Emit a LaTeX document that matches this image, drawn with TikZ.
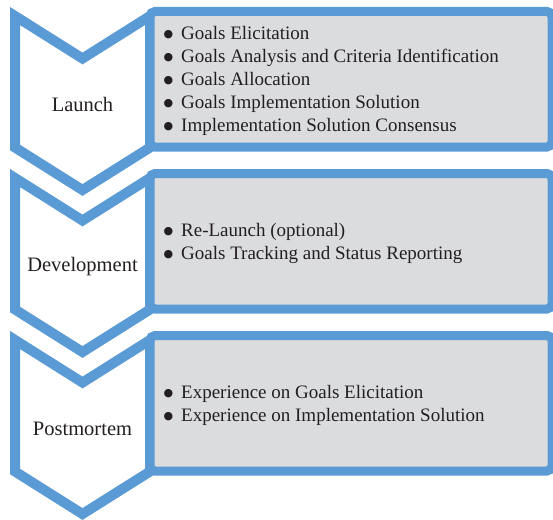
\documentclass[tikz,border=0pt]{standalone}
\usepackage{fontspec}
\setmainfont{Liberation Serif}
\newfontfamily\bulletfont{DejaVu Sans}
\definecolor{stageblue}{RGB}{91,155,213}
\definecolor{panelgrey}{RGB}{219,220,222}
\definecolor{inkdark}{RGB}{35,31,32}
\newcommand\itembullet{\makebox[16.5pt][l]{\hspace{-1pt}\raisebox{2.4pt}{\bulletfont\fontsize{11}{11}\selectfont ●}}}
\begin{document}
\begin{tikzpicture}[x=1pt,y=-1pt,
  chevron/.style={draw=stageblue, fill=white, line width=10pt, line join=miter, miter limit=10},
  panel/.style={draw=stageblue, fill=panelgrey, line width=9pt, rounded corners=5pt,
    rectangle, minimum width=402pt, minimum height=135.5pt, inner sep=0pt, outer sep=0pt},
  stagelabel/.style={font=\fontsize{20.5}{24}\selectfont, text=inkdark, inner sep=0pt},
  itemlist/.style={font=\fontsize{19}{23}\selectfont, text=inkdark, align=left,
    anchor=west, inner sep=0pt},
  pics/stagechevron/.style={code={
    \draw[chevron] (15,16) -- (82.5,58.5) -- (150,16) -- (150,147.5)
      -- (82.5,190) -- (15,147.5) -- cycle;}}]
\useasboundingbox (0,0) rectangle (553,519);

% three stage chevrons, stacked top to bottom
\pic (launchchev) at (0,0) {stagechevron};
\pic (devchev) at (0,162) {stagechevron};
\pic (postchev) at (0,324) {stagechevron};

% grey activity panels beside each chevron
\node[panel] (launchpanel) at (351,79.25) {};
\node[panel] (devpanel) at (351,241.25) {};
\node[panel] (postpanel) at (351,403.25) {};

% stage names
\node[stagelabel] (launch) at (82.5,104) {Launch};
\node[stagelabel] (dev) at (82.5,267) {Development};
\node[stagelabel] (post) at (82.5,429) {Postmortem};

% activities of each stage
\node[itemlist] (launchitems) at (164.5,81) {%
  \itembullet Goals Elicitation\\
  \itembullet Goals Analysis and Criteria Identification\\
  \itembullet Goals Allocation\\
  \itembullet Goals Implementation Solution\\
  \itembullet Implementation Solution Consensus};
\node[itemlist] (devitems) at (164.5,243.5) {%
  \itembullet Re-Launch (optional)\\
  \itembullet Goals Tracking and Status Reporting};
\node[itemlist] (postitems) at (164.5,405.5) {%
  \itembullet Experience on Goals Elicitation\\
  \itembullet Experience on Implementation Solution};
\end{tikzpicture}
\end{document}
